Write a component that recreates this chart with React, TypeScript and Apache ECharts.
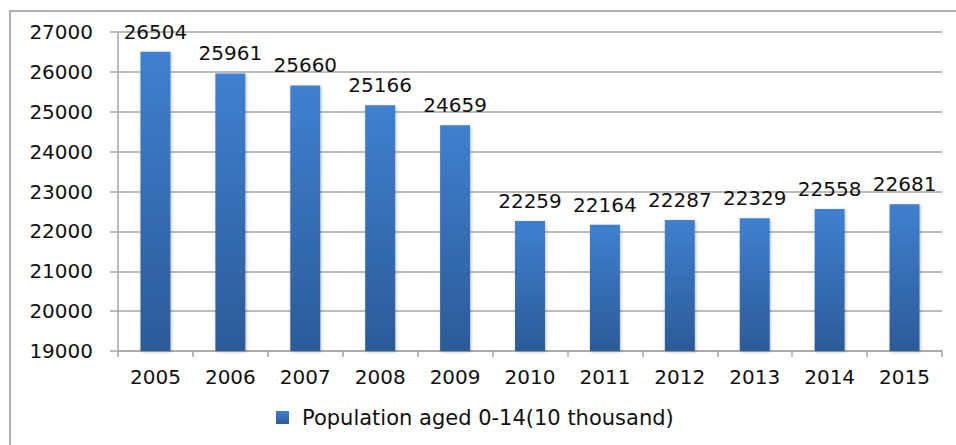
import React, { useEffect, useRef } from "react";
import * as echarts from "echarts";

const categories = ["2005", "2006", "2007", "2008", "2009", "2010", "2011", "2012", "2013", "2014", "2015"];
const population = [26504, 25961, 25660, 25166, 24659, 22259, 22164, 22287, 22329, 22558, 22681];
const seriesName = "Population aged 0-14(10 thousand)";
const yMin = 19000;
const yMax = 27000;
const yInterval = 1000;

const FONT = "DejaVu Sans";
const GRID = "#a6a6a6";

export default function App() {
  const ref = useRef<HTMLDivElement>(null);
  useEffect(() => {
    const chart = echarts.init(ref.current!, null, { renderer: "svg" });
    chart.setOption({
      animation: false,
      backgroundColor: "#ffffff",
      textStyle: { fontFamily: FONT },
      grid: { left: 118, right: 14, top: 32, bottom: 445 - 351, containLabel: false },
      legend: {
        data: [seriesName],
        left: 271,
        top: 402,
        icon: "rect",
        itemWidth: 13,
        itemHeight: 13,
        itemGap: 10,
        textStyle: { fontFamily: FONT, fontSize: 21, color: "#111", padding: [0, 0, 0, 8] },
      },
      xAxis: {
        type: "category",
        data: categories,
        axisLine: { lineStyle: { color: GRID, width: 1.5 } },
        axisTick: { show: true, length: 6, lineStyle: { color: GRID, width: 1.5 } },
        axisLabel: { fontFamily: FONT, fontSize: 20, color: "#111", margin: 16 },
      },
      yAxis: {
        type: "value",
        min: yMin,
        max: yMax,
        interval: yInterval,
        axisLine: { show: true, lineStyle: { color: GRID, width: 1.5 } },
        axisTick: { show: true, length: 8, lineStyle: { color: GRID, width: 1.5 } },
        splitLine: { lineStyle: { color: GRID, width: 1.5 } },
        axisLabel: {
          fontFamily: FONT,
          fontSize: 20,
          color: "#111",
          margin: 25,
          formatter: (v: number) => String(v),
        },
      },
      series: [
        {
          name: seriesName,
          type: "bar",
          data: population,
          barWidth: "40%",
          itemStyle: {
            color: new echarts.graphic.LinearGradient(0, 0, 0, 1, [
              { offset: 0, color: "#3f80d0" },
              { offset: 1, color: "#2b5b98" },
            ]),
            shadowColor: "rgba(0,0,0,0.25)",
            shadowBlur: 3,
            shadowOffsetX: 1,
            shadowOffsetY: 1,
          },
          label: {
            show: true,
            position: "top",
            distance: 10,
            fontFamily: FONT,
            fontSize: 20,
            color: "#111",
          },
        },
      ],
      graphic: [
        {
          type: "rect",
          shape: { x: 10, y: 11, width: 1000, height: 500 },
          style: { fill: "none", stroke: "#b0b0b0", lineWidth: 2 },
          silent: true,
        },
      ],
    });
    return () => chart.dispose();
  }, []);
  return (
    <div
      ref={ref}
      style={{ position: "fixed", left: 0, top: 0, width: 956, height: 445 }}
    />
  );
}
